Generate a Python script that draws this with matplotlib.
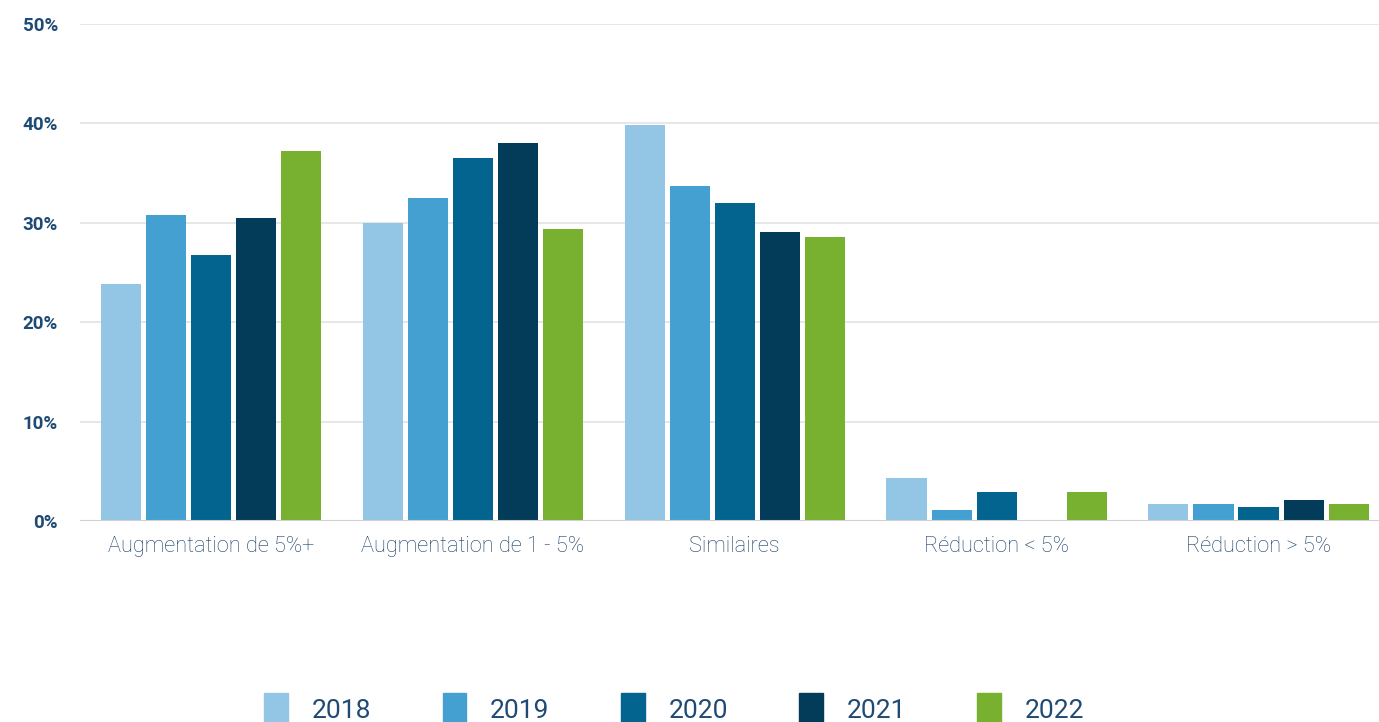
import numpy as np
import matplotlib.pyplot as plt
from matplotlib.patches import Patch

categories = ["Augmentation de 5%+", "Augmentation de 1 - 5%", "Similaires",
              "Réduction < 5%", "Réduction > 5%"]
years = ["2018", "2019", "2020", "2021", "2022"]
v2018 = [23.8, 30.0, 39.8, 4.3, 1.7]
v2019 = [30.8, 32.5, 33.7, 1.1, 1.7]
v2020 = [26.8, 36.5, 32.0, 2.9, 1.4]
v2021 = [30.5, 38.0, 29.1, 0.0, 2.1]
v2022 = [37.2, 29.4, 28.6, 2.9, 1.7]
yticks = [0, 10, 20, 30, 40, 50]

colors = ["#93c6e5", "#45a0d2", "#03658f", "#023c58", "#78b030"]
text_col = "#1f4a74"

plt.rcParams['font.family'] = ['Roboto', 'DejaVu Sans']

fig = plt.figure(figsize=(13.79, 7.22), dpi=100)
ax = fig.add_axes([0.058, 0.2784, 0.942, 0.6884])

series = [v2018, v2019, v2020, v2021, v2022]
ind = np.arange(len(categories))
pitch = 0.172
width = 0.153
for i, vals in enumerate(series):
    ax.bar(ind + (i - 2) * pitch, vals, width, color=colors[i], zorder=3)

ax.set_xlim(-0.5, 4.46)
ax.set_ylim(0, 50)
ax.set_yticks(yticks)
ax.set_yticklabels([f"{t}%" for t in yticks], fontsize=13.5, fontweight='bold',
                   color=text_col)
ax.set_xticks(ind)
ax.set_xticklabels(categories, fontsize=15.7, fontweight='light', color="#173f66")
ax.tick_params(axis='both', length=0)
ax.tick_params(axis='y', pad=16)
ax.tick_params(axis='x', pad=11)
for s in ax.spines.values():
    s.set_visible(False)
ax.grid(axis='y', color='#e3e3e3', linewidth=1.2, zorder=0)
ax.axhline(0, color='#d0d0d0', linewidth=1.5, zorder=4)

handles = [Patch(color=c) for c in colors]
fig.legend(handles, years, loc='lower center', bbox_to_anchor=(0.489, -0.038),
           ncol=5, frameon=False, fontsize=19, handlelength=0.9, handleheight=1.5,
           handletextpad=0.9, columnspacing=2.7, labelcolor=text_col)

fig.savefig("out.png", dpi=100)
